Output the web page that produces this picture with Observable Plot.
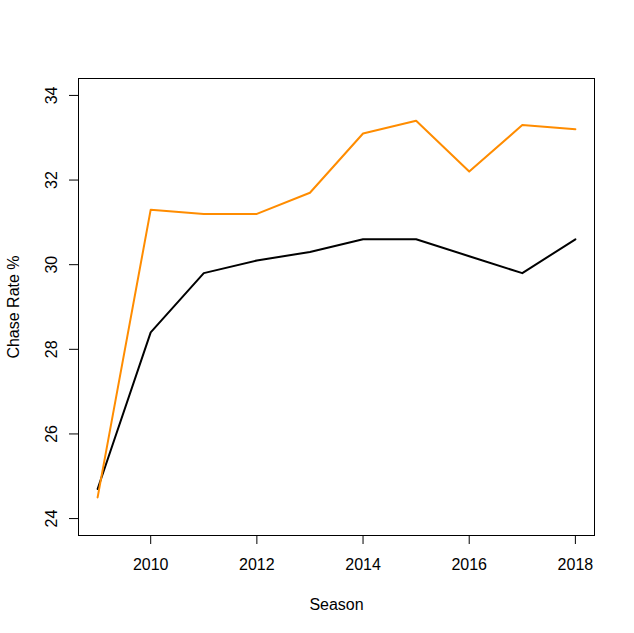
<!DOCTYPE html>
<html>
<head>
<meta charset="utf-8">
<script src="https://cdn.jsdelivr.net/npm/d3@7"></script>
<script src="https://cdn.jsdelivr.net/npm/@observablehq/plot@0.6"></script>
<style>
  html, body { margin: 0; padding: 0; background: #fff; }
  #chart svg { display: block; }
</style>
</head>
<body>
<div id="chart"></div>
<script>
const seasons = [2009, 2010, 2011, 2012, 2013, 2014, 2015, 2016, 2017, 2018];
const blackSeries = [24.7, 28.4, 29.8, 30.1, 30.3, 30.6, 30.6, 30.2, 29.8, 30.6];
const orangeSeries = [24.5, 31.3, 31.2, 31.2, 31.7, 33.1, 33.4, 32.2, 33.3, 33.2];
const xTicks = [2010, 2012, 2014, 2016, 2018];
const yTicks = [24, 26, 28, 30, 32, 34];
const xLabel = "Season";
const yLabel = "Chase Rate %";

const blackData = seasons.map((s, i) => ({season: s, value: blackSeries[i]}));
const orangeData = seasons.map((s, i) => ({season: s, value: orangeSeries[i]}));

const chart = Plot.plot({
  width: 634,
  height: 633,
  marginLeft: 78,
  marginRight: 40,
  marginTop: 78,
  marginBottom: 98,
  style: {fontFamily: "'Liberation Sans', Arial, sans-serif", fontSize: "16px", background: "#fff", color: "#000"},
  x: {domain: [2008.64, 2018.36]},
  y: {domain: [23.6, 34.4]},
  marks: [
    Plot.frame({stroke: "#000", strokeWidth: 1}),
    Plot.axisX({ticks: xTicks, tickFormat: d => String(d), tickSize: 9, tickPadding: 14, label: null, fontSize: 16, stroke: "#000"}),
    Plot.axisY({ticks: yTicks, tickFormat: d => String(d), tickSize: 9, tickPadding: 13, tickRotate: -90, label: null, fontSize: 16, stroke: "#000"}),
    Plot.line(blackData, {x: "season", y: "value", stroke: "#000", strokeWidth: 2}),
    Plot.line(orangeData, {x: "season", y: "value", stroke: "#FF8C00", strokeWidth: 2}),
    Plot.text([xLabel], {frameAnchor: "bottom", dy: 74, lineAnchor: "bottom", textAnchor: "middle", fontSize: 16, fill: "#000"}),
    Plot.text([yLabel], {frameAnchor: "left", dx: -60, rotate: -90, lineAnchor: "bottom", textAnchor: "middle", fontSize: 16, fill: "#000"})
  ]
});
document.getElementById("chart").appendChild(chart);
</script>
</body>
</html>
